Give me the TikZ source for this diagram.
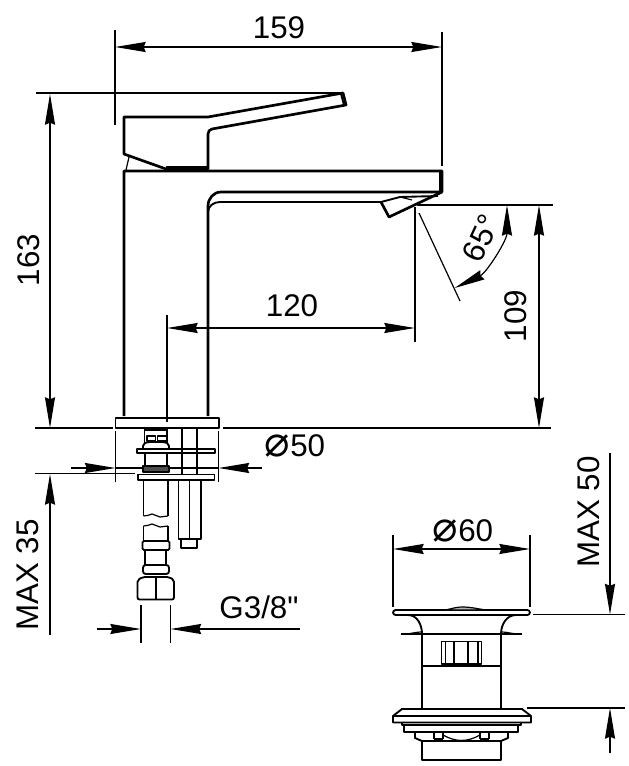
\documentclass[tikz,border=0pt]{standalone}
\usepackage{fontspec}
\setmainfont{Liberation Sans}
\newfontfamily\symfont[Scale=1.35]{DejaVu Sans}
\newfontfamily\quotefont{Liberation Sans}
\usetikzlibrary{arrows.meta}
\tikzset{
  dim/.style={line width=0.9pt,{Stealth[length=23pt,width=7.5pt,inset=1.5pt]}-{Stealth[length=23pt,width=7.5pt,inset=1.5pt]}},
  dimend/.style={line width=0.9pt,-{Stealth[length=23pt,width=7.5pt,inset=1.5pt]}},
  thin line/.style={line width=0.9pt},
  part/.style={line width=1.4pt},
  bold part/.style={line width=2pt},
  label/.style={font=\fontsize{23.5}{23.5}\selectfont,inner sep=0pt},
}
\newcommand{\diasign}{{\symfont\char"2300}}
\begin{document}
\begin{tikzpicture}[x=0.75pt,y=-0.75pt,line join=round]
\useasboundingbox (0,0) rectangle (628,766);
% handle
\draw[bold part] (124,117) -- (208,117) -- (343,93) -- (346,105) -- (212,129) to[out=190,in=90] (208,134) -- (208,169) -- (166,169) -- (124,154) -- cycle;
\draw[part] (343,93) -- (341,94) -- (344,105);
\draw[thin line] (129,157) -- (126,170);
\draw[thin line] (166,167) -- (208,167);
% spout and body
\draw[bold part] (124,416) -- (124,171) -- (442,171) -- (442,192) -- (221,192) to[out=180,in=90] (208,206) -- (208,416);
\draw[part] (440,171) -- (440,191);
\draw[part] (208,212) to[out=90,in=180] (220,202) -- (381,202);
\draw[bold part] (381,202) -- (389,217) -- (442,192);
\draw[part] (381,202) -- (400,197) -- (438,196);
\draw[thin line] (400,197) -- (412,200);
% base plate
\draw[part] (115.5,418) rectangle (219,428);
\draw[thin line] (167,315) -- (167,422);
% threaded stud and nuts
\draw[part] (144.5,428) -- (144.5,443);
\draw[part] (167,428) -- (167,443);
\draw[thin line] (144.5,430) -- (167,430);
\draw[thin line] (155.5,436) rectangle (147,441);
\draw[thin line] (157.5,436) rectangle (167,441);
\draw[part,rounded corners=1.5pt] (143,449) -- (143,444) -- (147,442) -- (165,442) -- (169,444) -- (169,449);
\draw[part] (137,449) rectangle (215,453);
\draw[part] (145,453) -- (145,466);
\draw[part] (167,453) -- (167,466);
\draw[bold part,fill=black!70] (143,466) rectangle (169,472);
\draw[part] (138,474.5) rectangle (214.5,480);
\draw[part] (143.5,480) -- (143.5,516);
\draw[part] (168,480) -- (168,516);
\draw[thin line] (143.5,516) to[out=-20,in=180] (152,514) to[out=0,in=180] (160,517) to[out=0,in=190] (168,516);
\draw[thin line] (143.5,526) to[out=-20,in=180] (152,524) to[out=0,in=180] (160,527) to[out=0,in=190] (168,526);
\draw[part] (143.5,526) -- (143.5,541);
\draw[part] (168,526) -- (168,541);
\draw[part,rounded corners=1pt] (142.5,541) rectangle (169.5,550);
\draw[part] (145,550) -- (145,565);
\draw[part] (166,550) -- (166,565);
\draw[part,rounded corners=2pt] (143,565) rectangle (169,574);
\draw[part,rounded corners=1.5pt] (137.5,599.5) -- (137.5,580) -- (143,577) -- (169,577) -- (174,580) -- (174,599.5) -- cycle;
\draw[part] (156,577) -- (156,599.5);
% second stud
\draw[bold part] (182,428) -- (182,474);
\draw[part] (197,428) -- (197,474);
\draw[part] (178.5,480) -- (178.5,539) -- (201,539) -- (201,480);
\draw[thin line] (189.5,480) -- (189.5,539);
\draw[bold part] (181,539) -- (181,548) -- (197,548) -- (197,539);
% pop-up waste
\draw[part,rounded corners=2pt] (393,610) rectangle (530,615);
\draw[thin line,fill=black!30] (438,610) to[out=-8,in=180] (462,607) to[out=0,in=172] (486,610) -- cycle;
\draw[part] (408,615) to[out=0,in=90] (422,634) -- (422,709);
\draw[part] (516,615) to[out=180,in=90] (501,634) -- (501,709);
\draw[part] (401,634) -- (522,634);
\draw[thin line] (401,634) to[out=-5,in=180] (422,632);
\draw[thin line] (522,634) to[out=185,in=0] (501,632);
\draw[part] (441.5,641.5) rectangle (481.5,664);
\foreach \winx in {445.5,454,468,478}
  \draw[thin line] (\winx,641.5) -- (\winx,664);
\draw[thin line] (422,666) -- (501,666);
\draw[part] (402,709) -- (522,709) -- (531,716) -- (531,722.5) -- (393,722.5) -- (393,716) -- cycle;
\draw[part] (393,716) -- (531,716);
\draw[part] (402,722.5) -- (402,725) -- (521,725) -- (521,722.5);
\draw[bold part] (404,725) -- (404,732) -- (518,732) -- (518,725);
\draw[part] (415,732) -- (415,738) -- (422,741) -- (501,741) -- (508,738) -- (508,732);
\draw[thin line] (434,732) -- (434,739) (443,732) -- (443,739) (434,739) -- (443,739);
\draw[thin line] (480,732) -- (480,739) (489,732) -- (489,739) (480,739) -- (489,739);
\draw[thin line] (443,735) to[out=-30,in=210] (480,735);
\draw[part] (422,741) -- (422,760) -- (501,760) -- (501,741);
% extension lines
\draw[thin line] (36,93) -- (340,93);
\draw[thin line] (115,30) -- (115,125);
\draw[thin line] (442,32) -- (442,166);
\draw[thin line] (35,428) -- (113,428);
\draw[thin line] (223,428) -- (551,428);
\draw[thin line] (35,473.5) -- (135,473.5);
\draw[thin line] (115.5,431) -- (115.5,482);
\draw[thin line] (218.5,431) -- (218.5,482);
\draw[thin line] (415,207) -- (415,342);
\draw[thin line] (417,205) -- (553,205);
\draw[thin line] (419,213) -- (460,301);
\draw[thin line] (141,605) -- (141,643);
\draw[thin line] (170.5,605) -- (170.5,643);
\draw[thin line] (393,535) -- (393,607);
\draw[thin line] (530,535) -- (530,607);
\draw[thin line] (533,614.5) -- (625,614.5);
\draw[thin line] (527,708) -- (625,708);
% dimensions
\draw[dim] (115,47) -- (442,47);
\draw[dim] (50,94) -- (50,428);
\draw[dim] (167,328) -- (415,328);
\draw[dim] (539,205) -- (539,428);
\draw[dim] (393,549) -- (530,549);
\draw[dim] (507,205) arc (0:64.5:92);
\draw[dimend] (71,468) -- (115.5,468);
\draw[thin line] (115.5,468) -- (143,468);
\draw[dimend] (262,468) -- (218.5,468);
\draw[thin line] (218.5,468) -- (169,468);
\draw[dimend] (50,635) -- (50,474);
\draw[dimend] (97,629) -- (141,629);
\draw[dimend] (300,629) -- (170.5,629);
\draw[dimend] (610,453) -- (610,614.5);
\draw[dimend] (610,753) -- (610,708);
% labels
\node[label] (len159) at (279,28) {159};
\node[label,rotate=90] (len163) at (29,260) {163};
\node[label] (len120) at (292,306) {120};
\node[label,rotate=90] (len109) at (516,316) {109};
\node[label,rotate=65] (ang65) at (481,238) {65°};
\node[label] (dia50) at (295,446) {\diasign50};
\node[label,rotate=90] (max35) at (28,575) {MAX 35};
\node[label] (thread) at (259,607) {G3/8{\quotefont"}};
\node[label] (dia60) at (463,531) {\diasign60};
\node[label,rotate=90] (max50) at (589,512) {MAX 50};
\end{tikzpicture}
\end{document}
